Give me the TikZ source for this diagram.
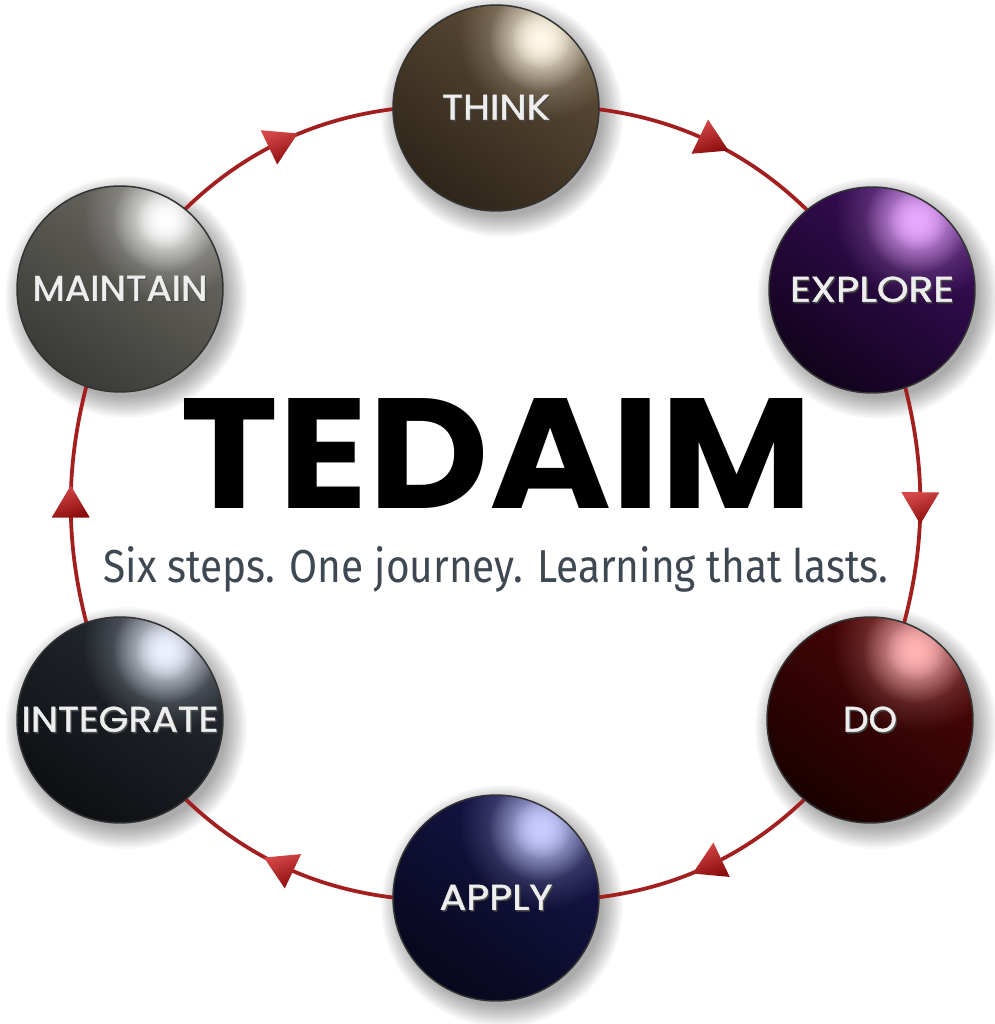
\documentclass[tikz,border=0pt]{standalone}
\usepackage{fontspec}
\setmainfont{Poppins}
\newfontfamily\subfont{Fira Sans}
\newfontfamily\labfont{Poppins}[FakeBold=1.2]
\usetikzlibrary{calc,decorations.markings,fadings}
\pgfdeclarelayer{shadowlayer}
\pgfdeclarelayer{ringlayer}
\pgfsetlayers{shadowlayer,ringlayer,main}
\tikzfading[name=hlfade, inner color=transparent!0, outer color=transparent!100]

\definecolor{ringred}{HTML}{A31E1E}
\definecolor{arrowlight}{HTML}{D64848}
\definecolor{arrowdark}{HTML}{8A0C0C}
\definecolor{subgray}{HTML}{3E4853}
\definecolor{labelwhite}{HTML}{EEEEEE}
\definecolor{thinkbase}{HTML}{2E2519}
\definecolor{thinkmid}{HTML}{5E4E38}
\definecolor{thinkhl}{HTML}{FFF8E6}
\definecolor{explorebase}{HTML}{12031D}
\definecolor{exploremid}{HTML}{3A0E5A}
\definecolor{explorehl}{HTML}{E8A8FF}
\definecolor{dobase}{HTML}{1A0101}
\definecolor{domid}{HTML}{4E0606}
\definecolor{dohl}{HTML}{FFB4B4}
\definecolor{applybase}{HTML}{07071C}
\definecolor{applymid}{HTML}{16164A}
\definecolor{applyhl}{HTML}{C8CCFF}
\definecolor{integratebase}{HTML}{0D0F12}
\definecolor{integratemid}{HTML}{262B33}
\definecolor{integratehl}{HTML}{EEF2FF}
\definecolor{maintainbase}{HTML}{3A3A36}
\definecolor{maintainmid}{HTML}{6C6A64}
\definecolor{maintainhl}{HTML}{FFFFFF}

\newcommand\lbl[2]{\rlap{\raisebox{-0.03cm}{\hspace{0.025cm}\color{black!70}\resizebox{#1}{0.5cm}{\labfont #2}}}\resizebox{#1}{0.5cm}{\labfont #2}}

\tikzset{
  ball/.style n args={3}{circle, minimum size=4.12cm, inner sep=0pt,
    draw=black!80, line width=0.03cm, text=labelwhite,
    path picture={
      \shade[top color=#2, middle color=#1!55!#2, bottom color=#1, shading angle=-35]
        (path picture bounding box.south west) rectangle (path picture bounding box.north east);
      \fill[#3, opacity=0.5, path fading=hlfade] ($(path picture bounding box.center)+(57:1.75cm)$) circle (1.7cm);
      \fill[#3, path fading=hlfade] ($(path picture bounding box.center)+(57:1.65cm)$) circle (1.05cm);
      \fill[#3, path fading=hlfade] ($(path picture bounding box.center)+(57:1.65cm)$) circle (0.6cm);
    }},
  ringline/.style={draw=ringred, line width=0.075cm, postaction={decorate},
    decoration={markings, mark=at position 0.5 with {
      \shade[top color=arrowlight, bottom color=arrowdark, shading angle=20]
        (0.38cm,0) -- (-0.26cm,0.38cm) -- (-0.26cm,-0.38cm) -- cycle;}}},
  shadowdisc/.style={fill=black, opacity=0.026},
}

\begin{document}
\begin{tikzpicture}[x=0.02cm, y=-0.02cm]
\useasboundingbox (0,0) rectangle (994,1024);

\node[ball={thinkbase}{thinkmid}{thinkhl}] (think) at (496,108) {\lbl{2.16cm}{THINK}};
\node[ball={explorebase}{exploremid}{explorehl}] (explore) at (872,290) {\lbl{3.28cm}{EXPLORE}};
\node[ball={dobase}{domid}{dohl}] (dostep) at (870,720) {\lbl{1.08cm}{DO}};
\node[ball={applybase}{applymid}{applyhl}] (apply) at (496,898) {\lbl{2.26cm}{APPLY}};
\node[ball={integratebase}{integratemid}{integratehl}] (integrate) at (120,720) {\lbl{3.94cm}{INTEGRATE}};
\node[ball={maintainbase}{maintainmid}{maintainhl}] (maintain) at (120,289) {\lbl{3.5cm}{MAINTAIN}};

\begin{pgfonlayer}{shadowlayer}
  \fill[white] (0,0) rectangle (994,1024);
  \foreach \n in {think,explore,dostep,apply,integrate,maintain}
    \foreach \k in {0,...,12}
      \fill[shadowdisc] ($(\n.center)+(6,8)$) circle ({2.0cm+\k*0.035cm});
\end{pgfonlayer}

\begin{pgfonlayer}{ringlayer}
  \foreach \a/\b/\bend in {think/explore/31, explore/dostep/23, dostep/apply/31, apply/integrate/31, integrate/maintain/23, maintain/think/31}
    \draw[ringline] (\a.center) to[bend left=\bend] (\b.center);
\end{pgfonlayer}

\node[anchor=base, inner sep=0pt] (title) at (497,508) {\resizebox{12.64cm}{2.2cm}{\bfseries TEDAIM}};
\node[anchor=base, inner sep=0pt, text=subgray] (subtitle) at (496,582) {\resizebox{15.7cm}{0.72cm}{\subfont Six steps. One journey. Learning that lasts.}};
\end{tikzpicture}
\end{document}
